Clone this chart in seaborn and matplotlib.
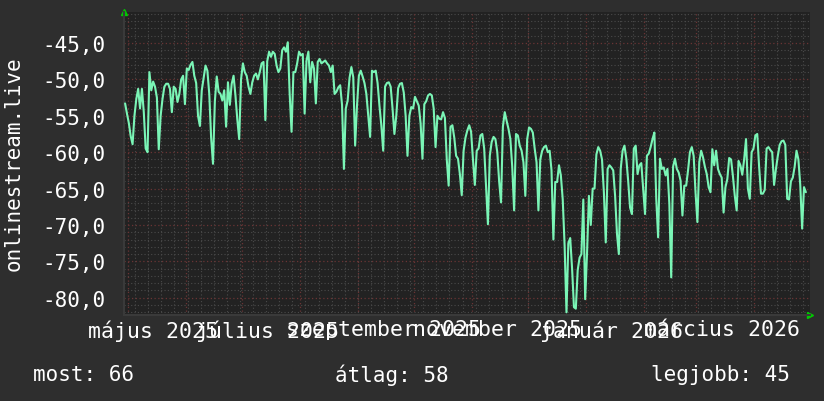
import numpy as np
import pandas as pd
import matplotlib
matplotlib.use("Agg")
import matplotlib.pyplot as plt
import seaborn as sns

# ── Data (daily values) ──────────────────────────────────────────────
start_date = "2025-04-30"
apr_2025 = [-53.3]
may_2025 = [-54.7, -56.0, -57.8, -58.9, -55.0, -52.7, -51.3, -54.0, -51.3, -54.5,
            -59.5, -60.0, -49.0, -51.5, -50.3, -51.0, -52.5, -59.6, -55.0, -52.7,
            -51.0, -50.6, -50.6, -51.3, -54.5, -51.0, -51.3, -53.1, -52.0, -50.0,
            -49.5]
jun_2025 = [-53.4, -48.5, -48.7, -48.0, -47.6, -49.5, -50.5, -55.0, -56.4, -51.5,
            -49.8, -48.1, -48.8, -52.0, -58.0, -61.6, -53.0, -49.6, -51.7, -52.0,
            -52.9, -51.5, -56.5, -50.4, -53.5, -50.6, -49.5, -52.2, -55.5, -58.2]
jul_2025 = [-50.0, -47.8, -49.0, -49.5, -51.0, -52.0, -50.4, -49.5, -49.2, -50.0,
            -49.0, -47.8, -47.6, -55.6, -47.5, -46.2, -46.9, -46.2, -46.5, -48.1,
            -49.0, -48.5, -46.0, -45.6, -46.2, -44.9, -52.0, -57.2, -49.0, -49.0,
            -47.8]
aug_2025 = [-46.2, -46.7, -46.5, -54.7, -47.4, -46.2, -50.4, -47.6, -48.5, -53.3,
            -47.6, -47.2, -47.8, -47.6, -47.4, -47.8, -48.1, -49.0, -48.1, -52.0,
            -51.7, -51.1, -50.8, -53.5, -62.3, -54.0, -52.9, -49.8, -48.3, -49.7,
            -59.1]
sep_2025 = [-53.6, -49.5, -48.8, -49.6, -50.5, -52.0, -55.0, -57.9, -48.8, -49.0,
            -48.8, -50.5, -53.6, -56.3, -59.8, -51.0, -50.5, -50.4, -51.0, -54.0,
            -57.5, -55.0, -51.2, -50.6, -50.5, -51.8, -55.0, -60.5, -55.0, -53.8]
oct_2025 = [-54.0, -52.4, -53.0, -53.6, -56.0, -60.9, -53.4, -53.0, -52.2, -52.0,
            -52.2, -54.0, -59.3, -55.0, -55.4, -55.5, -54.5, -55.3, -61.0, -64.6,
            -56.5, -56.3, -58.0, -60.5, -60.9, -63.0, -65.9, -59.8, -58.0, -57.0,
            -56.3]
nov_2025 = [-57.2, -61.0, -64.5, -59.8, -59.5, -57.7, -57.5, -59.5, -64.6, -69.9,
            -60.5, -58.6, -57.9, -58.2, -60.0, -64.0, -66.9, -56.5, -54.5, -55.7,
            -56.8, -58.2, -62.0, -68.0, -57.5, -57.7, -59.1, -59.8, -61.4, -66.0]
dec_2025 = [-58.2, -56.6, -56.8, -57.3, -59.5, -61.4, -68.0, -61.0, -59.8, -59.3,
            -59.1, -60.0, -59.8, -62.5, -72.0, -64.1, -64.1, -61.8, -63.2, -66.5,
            -72.8, -82.0, -72.5, -71.8, -76.0, -81.3, -81.5, -76.2, -74.5, -74.0,
            -66.5]
jan_2026 = [-80.2, -73.8, -66.0, -70.0, -65.0, -65.0, -60.3, -59.3, -59.8, -61.0,
            -65.5, -72.4, -62.3, -61.8, -62.1, -62.5, -66.0, -71.2, -74.0, -62.3,
            -59.8, -59.1, -60.9, -64.0, -67.6, -68.5, -59.5, -59.1, -63.0, -61.8,
            -61.5]
feb_2026 = [-65.0, -68.5, -60.5, -60.2, -59.3, -58.2, -57.3, -66.4, -71.7, -60.9,
            -62.3, -62.1, -63.2, -62.3, -67.1, -77.2, -62.0, -60.9, -62.3, -62.8,
            -63.9, -68.7, -64.6, -64.6, -62.5, -60.0, -59.3, -60.5]
mar_2026 = [-65.5, -69.6, -61.4, -59.8, -60.7, -62.0, -63.0, -64.8, -65.5, -59.6,
            -61.8, -59.8, -62.3, -63.0, -63.5, -68.3, -64.8, -63.7, -60.8, -61.0,
            -63.3, -66.0, -68.0, -61.2, -61.8, -63.1, -61.0, -58.2, -65.0, -66.4,
            -60.0]
apr_2026 = [-59.5, -57.7, -57.5, -62.0, -65.7, -65.7, -65.2, -59.5, -59.3, -59.7,
            -60.0, -64.5, -62.3, -60.5, -59.0, -58.5, -58.4, -59.0, -66.4, -66.5,
            -64.0, -63.5, -62.0, -59.8, -61.0, -64.5, -70.5, -64.8, -65.5]

y_ticks = [-80, -75, -70, -65, -60, -55, -50, -45]
label_dates = ["2025-05-15", "2025-07-15", "2025-09-15",
               "2025-11-15", "2026-01-15", "2026-03-15"]
label_texts = ["május 2025", "július 2025", "szeptember 2025",
               "november 2025", "január 2026", "március 2026"]
y_title = "onlinestream.live"
summary = ["most: 66", "átlag: 58", "legjobb: 45"]

# ── Styles ───────────────────────────────────────────────────────────
FIG_BG = "#2e2e2e"
AX_BG = "#222222"
LINE = "#7af5b6"
MAJOR = "#6a3434"
MINOR = "#4a4a4a"
TEXT = "#ffffff"
ARROW = "#00cc00"

sns.set_theme(style="dark", rc={"axes.facecolor": AX_BG, "figure.facecolor": FIG_BG})
plt.rcParams["font.family"] = ["DejaVu Sans Mono", "DejaVu Sans"]

values = (apr_2025 + may_2025 + jun_2025 + jul_2025 + aug_2025 + sep_2025
          + oct_2025 + nov_2025 + dec_2025 + jan_2026 + feb_2026 + mar_2026
          + apr_2026)
df = pd.DataFrame({
    "date": pd.date_range(start_date, periods=len(values), freq="D"),
    "value": values,
})

fig = plt.figure(figsize=(8.24, 4.02), dpi=100)
ax = fig.add_axes([124 / 824, 1 - 316 / 402, 686 / 824, 303 / 402])
ax.set_facecolor(AX_BG)

x0 = pd.Timestamp("2025-04-29 10:00")
x1 = pd.Timestamp("2026-05-01 05:00")
ax.set_xlim(x0, x1)
ax.set_ylim(-82.37, -40.74)

# ── Grid ─────────────────────────────────────────────────────────────
dot = (0, (1, 2))
for v in np.arange(-82, -40, 1):
    if v % 5 != 0:
        ax.axhline(v, color=MINOR, lw=0.8, ls=dot, zorder=1)
for d in pd.date_range(x0, x1, freq="W-MON"):
    ax.axvline(d, color=MINOR, lw=0.8, ls=dot, zorder=1)
for v in y_ticks:
    ax.axhline(v, color=MAJOR, lw=0.9, ls=dot, zorder=1.5)
for d in pd.date_range(x0, x1, freq="MS"):
    ax.axvline(d, color=MAJOR, lw=0.9, ls=dot, zorder=1.5)

# ── Line ─────────────────────────────────────────────────────────────
sns.lineplot(data=df, x="date", y="value", color=LINE, linewidth=1.5,
             ax=ax, zorder=3)

# ── Axes / labels ────────────────────────────────────────────────────
ax.set_yticks(y_ticks)
ax.set_yticklabels([f"{v:.1f}".replace(".", ",") for v in y_ticks])
ax.set_xticks(pd.to_datetime(label_dates))
ax.set_xticklabels(label_texts)
ax.tick_params(axis="both", length=0, colors=TEXT)
ax.tick_params(axis="y", pad=13, labelsize=15)
ax.tick_params(axis="x", pad=3, labelsize=15.5)
ax.set_xlabel("")
ax.set_ylabel("")
ax.grid(False)
for side in ["top", "right"]:
    ax.spines[side].set_visible(False)
for side in ["left", "bottom"]:
    ax.spines[side].set_color("#3a3a3a")
    ax.spines[side].set_linewidth(1.5)

fig.text(14 / 824, 1 - 164 / 402, y_title, rotation=90, color=TEXT,
         fontsize=15, ha="center", va="center")

# small green arrows on the axes ends
ax.plot([0], [1], marker="^", color=ARROW, mfc=ARROW, mec=ARROW,
        markersize=5, transform=ax.transAxes, clip_on=False)
ax.plot([1], [0], marker=">", color=ARROW, mfc=ARROW, mec=ARROW,
        markersize=5, transform=ax.transAxes, clip_on=False)

# ── Summary line ─────────────────────────────────────────────────────
fig.text(33 / 824, 1 - 375 / 402, summary[0], color=TEXT, fontsize=15,
         ha="left", va="center")
fig.text(392 / 824, 1 - 375 / 402, summary[1], color=TEXT, fontsize=15,
         ha="center", va="center")
fig.text(790 / 824, 1 - 375 / 402, summary[2], color=TEXT, fontsize=15,
         ha="right", va="center")

fig.savefig("out.png", dpi=100, facecolor=FIG_BG)
